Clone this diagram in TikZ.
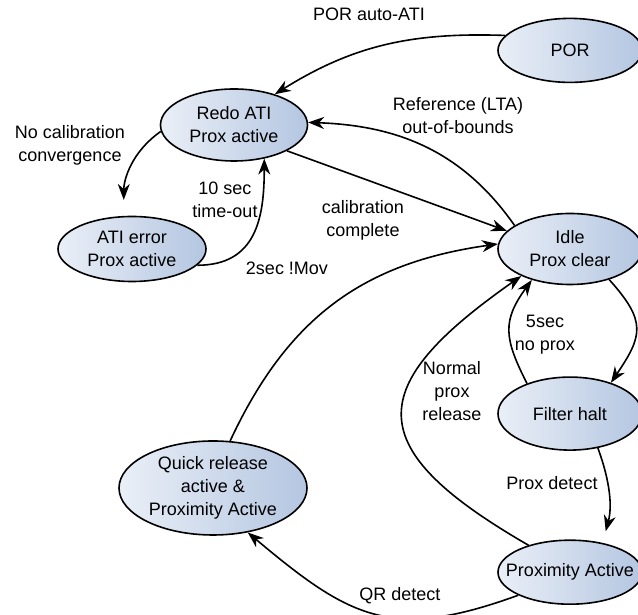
\documentclass[tikz,border=0pt]{standalone}
\usepackage{fontspec}
\setmainfont{Liberation Sans}
\usepackage{tikz}
\usetikzlibrary{arrows.meta, positioning, shapes.geometric}
\definecolor{statelight}{RGB}{234,239,247}
\definecolor{statedark}{RGB}{180,198,225}
\tikzset{%
  every path/.style={thick},
    edge/.style={%
        ->,
        >={Stealth[length=8pt, width=6pt]},
    },
    state/.style={%
        ellipse,
        draw=black,
        left color=statelight,
        right color=statedark,
        inner sep=0pt,
        minimum width=72pt,
        minimum height=32pt,
        align=center,
        font=\fontsize{9}{11.5}\selectfont,
    },
    trans/.style={%
        align=center,
        inner sep=1pt,
        font=\fontsize{9}{11.5}\selectfont,
    },
}

\begin{document}
\begin{tikzpicture}[x=0.5pt, y=0.5pt]
	% \draw[help lines] (0, 0) grid[step=50] (638, 615);
	\useasboundingbox (0, 0) rectangle (638, 615);
	\coordinate (right_side) at (570, 366);
	\coordinate (left_top) at (234, 490);

	\node [state, minimum height=35.5pt] at (right_side) (idle) {Idle\\Prox clear};
	\node [state, above=64.75pt of idle] (por) {POR};
	\node [state, minimum height=36.5pt, below=45.5pt of idle] (filter_halt) {Filter halt};
	\node [state, inner xsep=-9pt, below=44.25pt of filter_halt] (prox_active) {Proximity Active};

	\node [state, minimum width=73.5pt, minimum height=36pt] at (left_top) (redo_ati) {Redo ATI\\Prox active};
	\node [state, minimum width=74pt, minimum height=32.5pt] at (132, 366) (ati_error) {ATI error\\Prox active};
	\node [state, minimum width=94pt, minimum height=47pt] at (213, 127) (quick_release) {Quick release\\active \&\\Proximity Active};

	\node [trans] at (369, 601) (por_lbl) {POR auto-ATI};
	\node [trans] at (458, 499) (lta_lbl) {Reference (LTA)\\out-of-bounds};
	\node [trans] at (363, 395) (cal_lbl) {calibration\\complete};
	\node [trans] at (70, 470) (conv_lbl) {No calibration\\convergence};
	\node [trans] at (225, 415) (timeout_lbl) {10 sec\\time-out};
	\node [trans] at (287, 347) (mov_lbl) {2sec !Mov};
	\node [trans] at (452, 224) (release_lbl) {Normal\\prox\\release};
	\node [trans] at (545, 280) (noprox_lbl) {5sec\\no prox};
	\node [trans] at (552, 132) (detect_lbl) {Prox detect};
	\node [trans] at (400, 19) (qr_lbl) {QR detect};

	\draw[edge] (por.167) to[out=178, in=32] (redo_ati.37);
	\draw[edge] (idle.157) to[out=125, in=-2] (redo_ati.2);
	\draw[edge] (redo_ati.-26) -- (idle.164);
	\draw[edge, shorten >=8pt] (redo_ati.185) to[out=215, in=90] (ati_error.104);
	\draw[edge] (ati_error.-14) to[out=0, in=-90, looseness=1.2] (redo_ati.-48);

	\draw[edge] (quick_release.70) to[out=65, in=188, looseness=1.05] (idle.176);
	\draw[edge] (prox_active.147) to[out=150, in=215, looseness=1.84] (idle.209);
	\draw[edge] (filter_halt.145) to[out=117, in=234, looseness=1.25] (idle.219);
	\draw[edge] (idle.-38) to[out=-48, in=56, looseness=1.4] (filter_halt.37);
	\draw[edge, shorten >=6pt] (filter_halt.-51) to[out=-70, in=75] (prox_active.42);
	\draw[edge] (prox_active.204) to[out=200, in=-40, looseness=1.24] (quick_release.-52);
\end{tikzpicture}
\end{document}
